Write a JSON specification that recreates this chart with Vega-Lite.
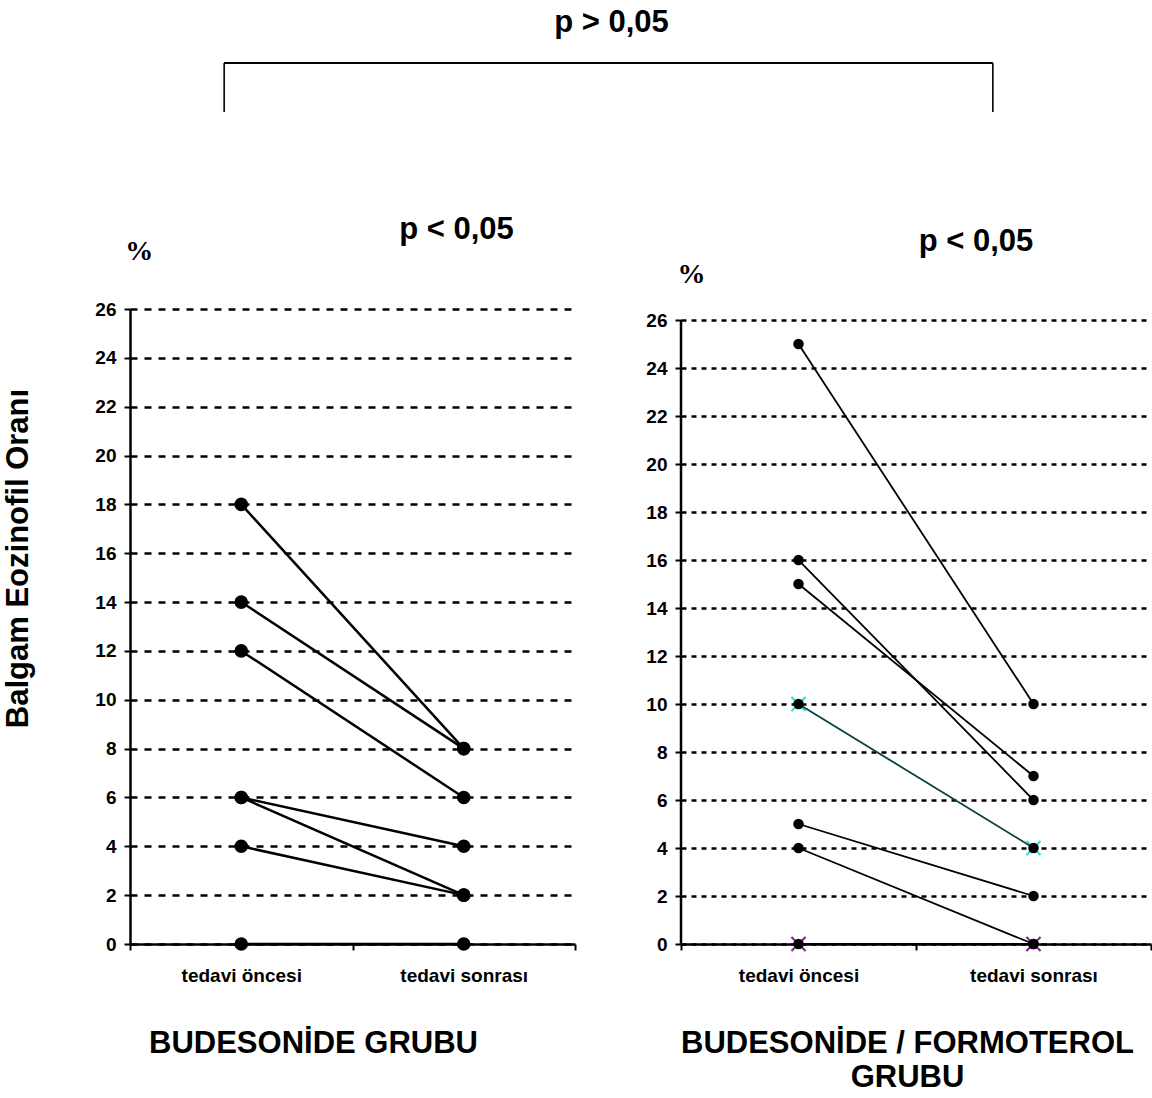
{
  "$schema": "https://vega.github.io/schema/vega-lite/v6.json",
  "background": "white",
  "padding": {"left": 2, "top": 6, "right": 0, "bottom": 0},
  "title": {"text": "p > 0,05", "fontSize": 31, "fontWeight": "bold", "font": "Liberation Sans", "color": "black", "anchor": "middle", "dx": 34, "offset": 23},
  "datasets": {
    "budesonide": [
      {"id": "B1", "time": "tedavi öncesi", "value": 18}, {"id": "B1", "time": "tedavi sonrası", "value": 8},
      {"id": "B2", "time": "tedavi öncesi", "value": 14}, {"id": "B2", "time": "tedavi sonrası", "value": 8},
      {"id": "B3", "time": "tedavi öncesi", "value": 12}, {"id": "B3", "time": "tedavi sonrası", "value": 6},
      {"id": "B4", "time": "tedavi öncesi", "value": 6}, {"id": "B4", "time": "tedavi sonrası", "value": 4},
      {"id": "B5", "time": "tedavi öncesi", "value": 6}, {"id": "B5", "time": "tedavi sonrası", "value": 2},
      {"id": "B6", "time": "tedavi öncesi", "value": 4}, {"id": "B6", "time": "tedavi sonrası", "value": 2},
      {"id": "B7", "time": "tedavi öncesi", "value": 0}, {"id": "B7", "time": "tedavi sonrası", "value": 0}
    ],
    "formoterol": [
      {"id": "R1", "time": "tedavi öncesi", "value": 25}, {"id": "R1", "time": "tedavi sonrası", "value": 10},
      {"id": "R2", "time": "tedavi öncesi", "value": 16}, {"id": "R2", "time": "tedavi sonrası", "value": 6},
      {"id": "R3", "time": "tedavi öncesi", "value": 15}, {"id": "R3", "time": "tedavi sonrası", "value": 7},
      {"id": "R4", "time": "tedavi öncesi", "value": 10}, {"id": "R4", "time": "tedavi sonrası", "value": 4},
      {"id": "R5", "time": "tedavi öncesi", "value": 5}, {"id": "R5", "time": "tedavi sonrası", "value": 2},
      {"id": "R6", "time": "tedavi öncesi", "value": 4}, {"id": "R6", "time": "tedavi sonrası", "value": 0},
      {"id": "R7", "time": "tedavi öncesi", "value": 0}, {"id": "R7", "time": "tedavi sonrası", "value": 0}
    ],
    "groups": [
      {"group": "BUDESONİDE GRUBU"}, {"group": "BUDESONİDE / FORMOTEROL GRUBU"}
    ],
    "unit": [
      {"label": "%"}
    ]
  },
  "spacing": 100,
  "vconcat": [
    {
      "width": 957,
      "height": 49,
      "data": {"name": "groups"},
      "layer": [
        {
          "mark": {"type": "rule", "color": "black", "strokeWidth": 1.6},
          "encoding": {
            "x": {"field": "group", "type": "nominal", "scale": {"type": "point", "padding": 0.1225, "domain": ["BUDESONİDE GRUBU", "BUDESONİDE / FORMOTEROL GRUBU"]}, "axis": null},
            "y": {"datum": 0, "type": "quantitative", "scale": {"domain": [0, 1]}, "axis": null},
            "y2": {"datum": 1}
          }
        },
        {
          "mark": {"type": "rule", "color": "black", "strokeWidth": 2.2},
          "encoding": {
            "x": {"datum": "BUDESONİDE GRUBU", "type": "nominal"},
            "x2": {"datum": "BUDESONİDE / FORMOTEROL GRUBU"},
            "y": {"datum": 1, "type": "quantitative"}
          }
        }
      ]
    },
    {
      "spacing": 69,
      "hconcat": [
        {
          "width": 445,
          "height": 635,
          "title": {"text": "p < 0,05", "fontSize": 31, "fontWeight": "bold", "font": "Liberation Sans", "color": "black", "anchor": "middle", "dx": 104, "offset": -8},
          "layer": [
            {
              "data": {"name": "budesonide"},
              "mark": {"type": "line", "color": "black", "strokeWidth": 2.5},
              "encoding": {
                "x": {
                  "field": "time", "type": "nominal",
                  "scale": {"type": "band", "domain": ["tedavi öncesi", "tedavi sonrası"], "paddingInner": 0, "paddingOuter": 0},
                  "axis": {
                    "title": "BUDESONİDE GRUBU", "titleFontSize": 31, "titleFont": "Liberation Sans", "titleFontWeight": "bold", "titleColor": "black",
                    "titleX": 183, "titleAlign": "center", "titlePadding": 43,
                    "labelAngle": 0, "labelFontSize": 19, "labelFont": "Liberation Sans", "labelFontWeight": "bold", "labelColor": "black", "labelPadding": 16,
                    "tickBand": "extent", "tickSize": 6, "tickColor": "black", "tickWidth": 2,
                    "domainColor": "black", "domainWidth": 2.5, "grid": false
                  }
                },
                "y": {
                  "field": "value", "type": "quantitative",
                  "scale": {"domain": [0, 26], "nice": false},
                  "axis": {
                    "title": "Balgam Eozinofil Oranı", "titleFontSize": 31, "titleFont": "Liberation Sans", "titleFontWeight": "bold", "titleColor": "black",
                    "titleY": 249, "titlePadding": 60,
                    "values": [0, 2, 4, 6, 8, 10, 12, 14, 16, 18, 20, 22, 24, 26],
                    "labelFontSize": 19, "labelFont": "Liberation Sans", "labelFontWeight": "bold", "labelColor": "black", "labelPadding": 8,
                    "tickSize": 6, "tickColor": "black", "tickWidth": 2,
                    "domainColor": "black", "domainWidth": 2.5,
                    "grid": true, "gridColor": "black", "gridWidth": 2.5, "gridDash": [7, 7], "gridOpacity": 1
                  }
                },
                "detail": {"field": "id", "type": "nominal"}
              }
            },
            {
              "data": {"name": "budesonide"},
              "mark": {"type": "point", "filled": true, "size": 185, "color": "black", "opacity": 1},
              "encoding": {
                "x": {"field": "time", "type": "nominal"},
                "y": {"field": "value", "type": "quantitative"}
              }
            },
            {
              "data": {"name": "unit"},
              "mark": {"type": "text", "font": "Liberation Serif", "fontSize": 28, "fontWeight": "bold", "color": "black", "dx": -102, "align": "center", "baseline": "middle", "clip": false},
              "encoding": {
                "x": {"datum": "tedavi öncesi", "type": "nominal"},
                "y": {"datum": 28.34, "type": "quantitative"},
                "text": {"field": "label", "type": "nominal"}
              }
            }
          ]
        },
        {
          "width": 470,
          "height": 635,
          "title": {"text": "p < 0,05", "fontSize": 31, "fontWeight": "bold", "font": "Liberation Sans", "color": "black", "anchor": "middle", "dx": 60, "offset": 3},
          "layer": [
            {
              "data": {"name": "unit"},
              "mark": {"type": "rule", "color": "black", "strokeWidth": 2.5},
              "encoding": {
                "x": {
                  "datum": "tedavi öncesi", "type": "nominal", "bandPosition": 0,
                  "scale": {"type": "band", "domain": ["tedavi öncesi", "tedavi sonrası"], "paddingInner": 0, "paddingOuter": 0},
                  "axis": {
                    "title": ["BUDESONİDE / FORMOTEROL", "GRUBU"], "titleFontSize": 31, "titleFont": "Liberation Sans", "titleFontWeight": "bold", "titleColor": "black",
                    "titleX": 226, "titleAlign": "center", "titlePadding": 43, "titleLineHeight": 34,
                    "labelAngle": 0, "labelFontSize": 19, "labelFont": "Liberation Sans", "labelFontWeight": "bold", "labelColor": "black", "labelPadding": 16,
                    "tickBand": "extent", "tickSize": 6, "tickColor": "black", "tickWidth": 2,
                    "domainColor": "black", "domainWidth": 2.5, "grid": false
                  }
                },
                "y": {
                  "datum": 0, "type": "quantitative",
                  "scale": {"domain": [0, 26.46], "nice": false},
                  "axis": {
                    "title": null,
                    "values": [0, 2, 4, 6, 8, 10, 12, 14, 16, 18, 20, 22, 24, 26],
                    "labelFontSize": 19, "labelFont": "Liberation Sans", "labelFontWeight": "bold", "labelColor": "black", "labelPadding": 8,
                    "tickSize": 6, "tickColor": "black", "tickWidth": 2,
                    "domain": false,
                    "grid": true, "gridColor": "black", "gridWidth": 2.5, "gridDash": [5, 5], "gridOpacity": 1
                  }
                },
                "y2": {"datum": 26}
              }
            },
            {
              "data": {"name": "formoterol"},
              "transform": [{"filter": "datum.id === 'R4' || datum.id === 'R7'"}],
              "mark": {"type": "point", "shape": "M-1,-1L1,1M-1,1L1,-1", "filled": false, "size": 200, "strokeWidth": 2, "opacity": 1},
              "encoding": {
                "x": {"field": "time", "type": "nominal"},
                "y": {"field": "value", "type": "quantitative"},
                "color": {"condition": {"test": "datum.id === 'R4'", "value": "#22e0e0"}, "value": "#8a1a9a"}
              }
            },
            {
              "data": {"name": "formoterol"},
              "mark": {"type": "line", "strokeWidth": 1.8},
              "encoding": {
                "x": {"field": "time", "type": "nominal"},
                "y": {"field": "value", "type": "quantitative"},
                "detail": {"field": "id", "type": "nominal"},
                "color": {"condition": {"test": "datum.id === 'R4'", "value": "#0d4040"}, "value": "black"}
              }
            },
            {
              "data": {"name": "formoterol"},
              "mark": {"type": "point", "filled": true, "size": 110, "color": "black", "opacity": 1},
              "encoding": {
                "x": {"field": "time", "type": "nominal"},
                "y": {"field": "value", "type": "quantitative"}
              }
            },
            {
              "data": {"name": "unit"},
              "mark": {"type": "text", "font": "Liberation Serif", "fontSize": 28, "fontWeight": "bold", "color": "black", "dx": -107, "align": "center", "baseline": "middle", "clip": false},
              "encoding": {
                "x": {"datum": "tedavi öncesi", "type": "nominal"},
                "y": {"datum": 27.87, "type": "quantitative"},
                "text": {"field": "label", "type": "nominal"}
              }
            }
          ]
        }
      ]
    }
  ],
  "config": {
    "view": {"stroke": null},
    "font": "Liberation Sans"
  }
}
